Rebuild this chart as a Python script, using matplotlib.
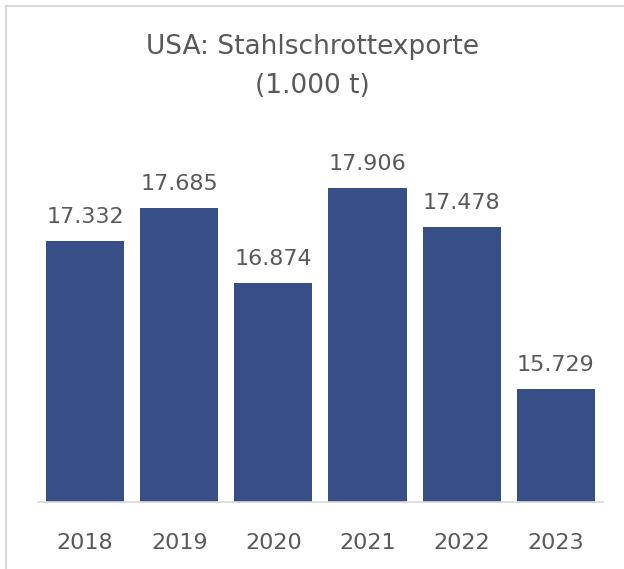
import matplotlib
matplotlib.use("Agg")
import matplotlib.pyplot as plt
from matplotlib.lines import Line2D

years = ["2018", "2019", "2020", "2021", "2022", "2023"]
values = [17332, 17685, 16874, 17906, 17478, 15729]
labels = ["17.332", "17.685", "16.874", "17.906", "17.478", "15.729"]
title = "USA: Stahlschrottexporte\n(1.000 t)"

plt.rcParams['font.family'] = ['DejaVu Sans']
txt = "#595959"
bar_color = "#374E86"

fig = plt.figure(figsize=(6.24, 5.69), dpi=100)
ax = fig.add_axes([0.0609, 0.1178, 0.9054, 0.6485])
x = range(len(years))
ax.bar(x, values, width=0.83, color=bar_color, bottom=0)
ax.set_ylim(14500, 18500)
ax.set_xlim(-0.5, 5.5)
for i, (v, l) in enumerate(zip(values, labels)):
    ax.text(i, v + 150, l, ha='center', va='bottom', fontsize=16, color=txt)
ax.set_xticks(list(x))
ax.set_xticklabels(years, fontsize=16, color=txt)
ax.tick_params(axis='x', length=0, pad=22)
ax.set_yticks([])
for s in ['left', 'right', 'top']:
    ax.spines[s].set_visible(False)
ax.spines['bottom'].set_color('#D9D9D9')
ax.spines['bottom'].set_linewidth(1.2)

fig.text(0.5, 1 - 66/569, title, ha='center', va='center', fontsize=19, color=txt, linespacing=1.65)

fig.add_artist(Line2D([6/624, 6/624], [0, 1 - 6/569], transform=fig.transFigure, color='#D9D9D9', lw=1.5))
fig.add_artist(Line2D([6/624, 1], [1 - 6/569, 1 - 6/569], transform=fig.transFigure, color='#D9D9D9', lw=1.5))

fig.savefig("out.png", dpi=100)
